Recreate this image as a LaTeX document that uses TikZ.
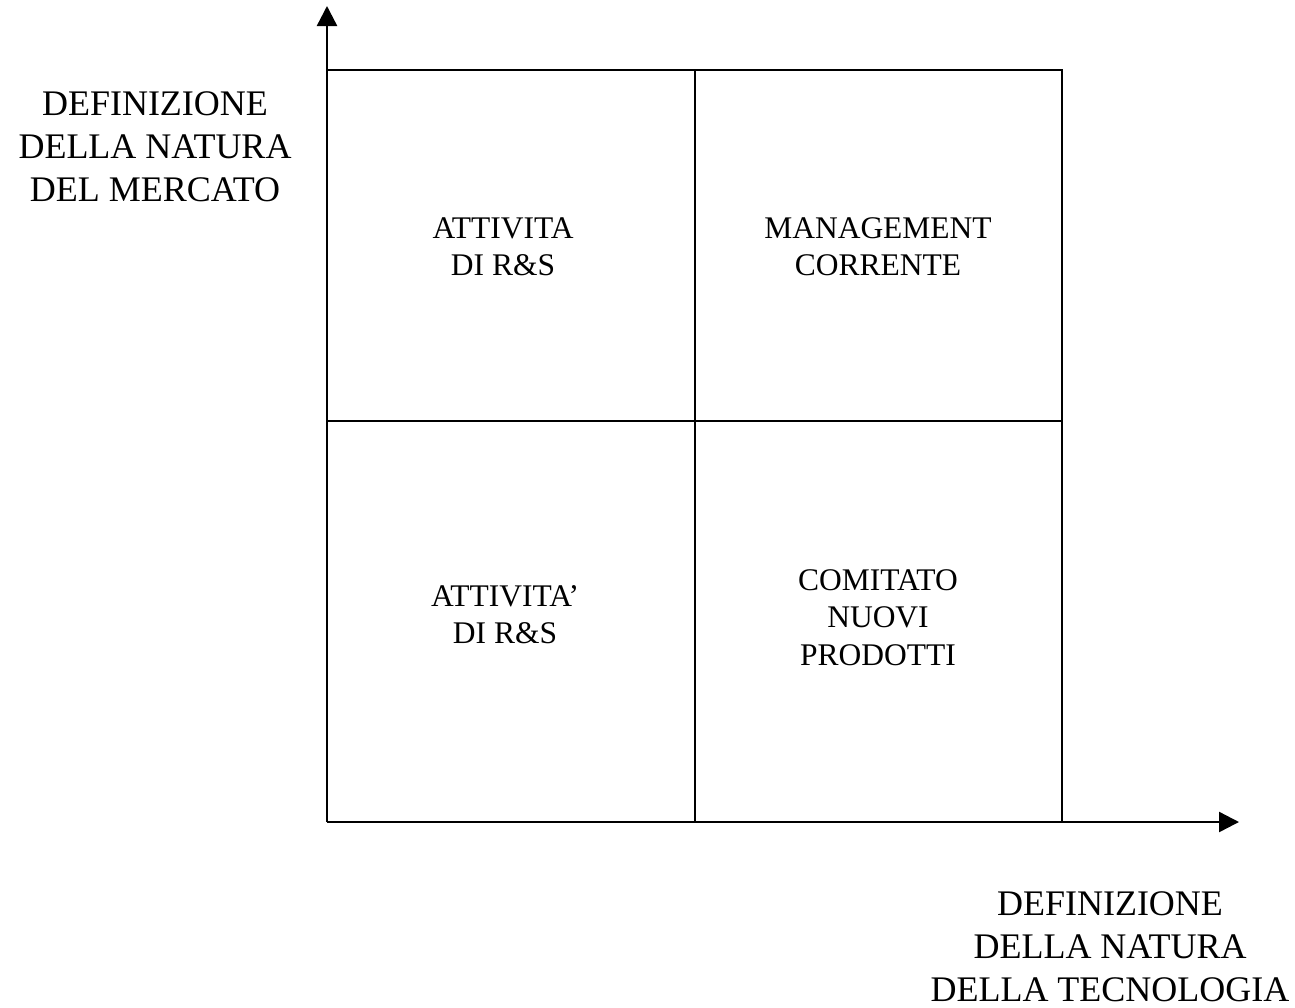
\documentclass[tikz,border=0pt]{standalone}
\usepackage{fontspec}
\setmainfont{Liberation Serif}
\usetikzlibrary{arrows.meta}
\begin{document}
\begin{tikzpicture}[x=1pt,y=-1pt,
  grid/.style={line width=2pt, line cap=rect},
  axis/.style={line width=2.4pt, -{Triangle[length=20pt,width=20pt]}},
  axislabel/.style={anchor=base, align=center, inner sep=0pt, font=\fontsize{36}{43}\selectfont},
  celltext/.style={anchor=base, align=center, inner sep=0pt, font=\fontsize{31.5}{37.5}\selectfont}]
\useasboundingbox (0,0) rectangle (1295,1007);
% grid corners
\coordinate (O) at (327,822);
\coordinate (TL) at (327,70);
\coordinate (TR) at (1062,70);
\coordinate (BR) at (1062,822);
\coordinate (TM) at (695,70);
\coordinate (BM) at (695,822);
\coordinate (ML) at (327,421);
\coordinate (MR) at (1062,421);
\coordinate (Ytip) at (327,6);
\coordinate (Xtip) at (1239,822);
% grid
\draw[grid] (TL) -- (TR) -- (BR);
\draw[grid] (TM) -- (BM);
\draw[grid] (ML) -- (MR);
% axes
\draw[axis] (O) -- (Ytip);
\draw[axis] (O) -- (Xtip);
% labels (anchor = baseline of the last line)
\node[axislabel] (ylab) at (155,201) {DEFINIZIONE\\DELLA NATURA\\DEL MERCATO};
\node[axislabel] (xlab) at (1110,1001) {DEFINIZIONE\\DELLA NATURA\\DELLA TECNOLOGIA};
% cells
\node[celltext] (c11) at (503,275.5) {ATTIVITA\\DI R\&S};
\node[celltext] (c12) at (878,275.5) {MANAGEMENT\\CORRENTE};
\node[celltext] (c21) at (505,643.5) {ATTIVITA’\\DI R\&S};
\node[celltext] (c22) at (878,665) {COMITATO\\NUOVI\\PRODOTTI};
\end{tikzpicture}
\end{document}
